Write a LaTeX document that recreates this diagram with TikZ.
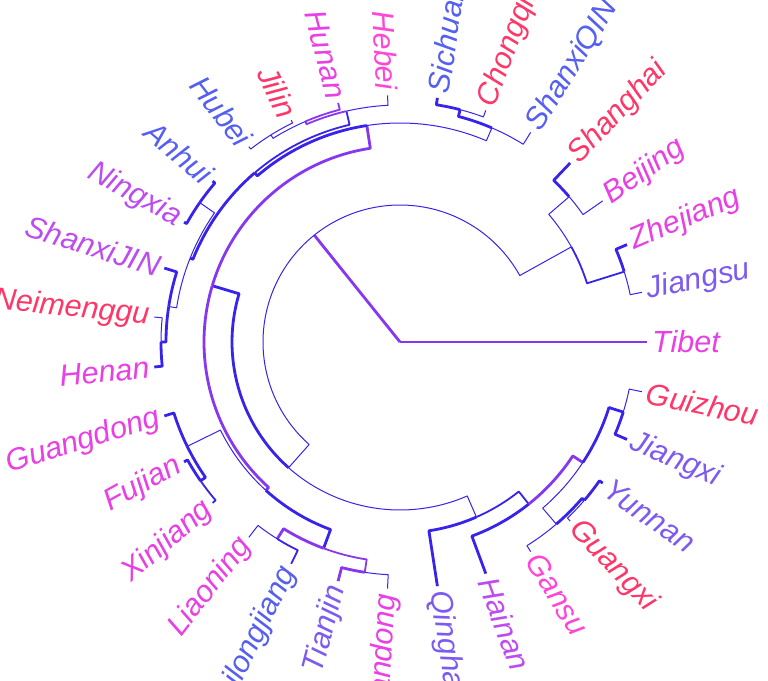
\documentclass[tikz,border=0pt]{standalone}
\usepackage{fontspec}
\setmainfont{Liberation Sans}
\definecolor{bl}{RGB}{55,35,235}
\definecolor{pu}{RGB}{135,55,240}
\definecolor{mg}{RGB}{232,64,228}
\definecolor{pk}{RGB}{255,70,215}
\definecolor{rd}{RGB}{255,55,105}
\definecolor{lb}{RGB}{85,95,240}
\definecolor{vb}{RGB}{125,90,240}
\definecolor{vi}{RGB}{190,75,240}
\begin{document}
\begin{tikzpicture}[x=1pt,y=1pt,line join=round,
  thn/.style={line width=1pt},mdm/.style={line width=1.8pt},thk/.style={line width=2.8pt},
  lab/.style={font=\fontsize{30.5}{36}\selectfont\itshape,inner sep=4pt}]
\clip (-400,-338) rectangle (368,342);
\coordinate (R) at (0,0);
\foreach \n/\a/\r in {M/128.74/137,East/29.03/196,ZJ/17.42/235,SB/40.65/223,W/228.45/168,
  C/163.31/196,U/98.71/219,Q/66.77/233,SC/75.48/240,U2/130.65/223,HB/103.07/237,HJH/113.23/240,
  JH/121.94/244,ANSNH/158.23/226,AN/145.16/244,SNH/171.29/234,NH/180/239,D/227.90/200,
  GFX/206.13/237,FX/214.84/243,LHTS/249.68/220,LH/238.06/232,TS/261.29/233,SE/293.59/191,
  Y/308.47/207,Z/326.61/219,G1/310.64/240,GY/319.35/243,G2/342.58/234}
  \coordinate (\n) at (\a:\r);
\foreach \n/\k/\c [evaluate=\k as \a using \k*360/31] in {Tibet/0/mg,Jiangsu/1/vb,Zhejiang/2/mg,
  Beijing/3/mg,Shanghai/4/rd,ShanxiQIN/5/lb,Chongqing/6/rd,Sichuan/7/lb,Qinghai/24/vb,Hainan/25/vi,
  Gansu/26/pk,Guangxi/27/rd,Yunnan/28/vb,Jiangxi/29/vb,Guizhou/30/rd}{
  \coordinate (t\n) at (\a:247);
  \node[lab,text=\c,anchor=west,rotate=\a] (\n) at (\a:248) {\n};}
\foreach \n/\k/\c [evaluate=\k as \a using \k*360/31] in {Hebei/8/pk,Hunan/9/mg,Jilin/10/rd,
  Hubei/11/lb,Anhui/12/lb,Ningxia/13/vi,ShanxiJIN/14/vi,Neimenggu/15/rd,Henan/16/mg,Guangdong/17/mg,
  Fujian/18/mg,Xinjiang/19/mg,Liaoning/20/mg,Heilongjiang/21/lb,Tianjin/22/vb,Shandong/23/mg}{
  \coordinate (t\n) at (\a:247);
  \node[lab,text=\c,anchor=east,rotate=\a-180] (\n) at (\a:248) {\n};}
\draw[mdm,pu] (R) -- (tTibet);
\draw[thk,pu] (R) -- (M);
\foreach \p/\pa/\pr/\c/\ca/\w/\col in {
  M/128.74/137/East/29.03/thn/bl, M/128.74/137/W/228.45/thn/bl,
  East/29.03/196/ZJ/17.42/mdm/bl, East/29.03/196/SB/40.65/thn/bl,
  ZJ/17.42/235/tJiangsu/11.61/thn/bl, ZJ/17.42/235/tZhejiang/23.23/thk/bl,
  SB/40.65/223/tBeijing/34.84/thn/bl, SB/40.65/223/tShanghai/46.45/thk/bl,
  W/228.45/168/C/163.31/thk/bl, W/228.45/168/SE/293.59/thn/bl,
  C/163.31/196/U/98.71/thk/pu, C/163.31/196/D/227.90/thk/pu,
  U/98.71/219/Q/66.77/thn/bl, U/98.71/219/U2/130.65/thk/bl,
  Q/66.77/233/tShanxiQIN/58.06/thn/bl, Q/66.77/233/SC/75.48/thk/bl,
  SC/75.48/240/tChongqing/69.68/thn/bl, SC/75.48/240/tSichuan/81.29/thk/bl,
  U2/130.65/223/HB/103.07/mdm/bl, U2/130.65/223/ANSNH/158.23/thk/bl,
  HB/103.07/237/tHebei/92.90/thn/bl, HB/103.07/237/HJH/113.23/mdm/pu,
  HJH/113.23/240/tHunan/104.52/mdm/pu, HJH/113.23/240/JH/121.94/thn/bl,
  JH/121.94/244/tJilin/116.13/thn/bl, JH/121.94/244/tHubei/127.74/thn/bl,
  ANSNH/158.23/226/AN/145.16/thn/bl, ANSNH/158.23/226/SNH/171.29/thn/bl,
  AN/145.16/244/tAnhui/139.35/thk/bl, AN/145.16/244/tNingxia/150.97/thk/bl,
  SNH/171.29/234/tShanxiJIN/162.58/thk/bl, SNH/171.29/234/NH/180/thk/bl,
  NH/180/239/tNeimenggu/174.19/thn/bl, NH/180/239/tHenan/185.81/thk/bl,
  D/227.90/200/GFX/206.13/thn/bl, D/227.90/200/LHTS/249.68/thk/bl,
  GFX/206.13/237/tGuangdong/197.42/thk/bl, GFX/206.13/237/FX/214.84/thk/bl,
  FX/214.84/243/tFujian/209.03/thk/bl, FX/214.84/243/tXinjiang/220.65/mdm/bl,
  LHTS/249.68/220/LH/238.06/thk/pu, LHTS/249.68/220/TS/261.29/mdm/pu,
  LH/238.06/232/tLiaoning/232.26/thn/bl, LH/238.06/232/tHeilongjiang/243.87/mdm/bl,
  TS/261.29/233/tTianjin/255.48/thk/pu, TS/261.29/233/tShandong/267.10/thn/bl,
  SE/293.59/191/tQinghai/278.71/thk/bl, SE/293.59/191/Y/308.47/mdm/bl,
  Y/308.47/207/tHainan/290.32/thk/bl, Y/308.47/207/Z/326.61/thk/pu,
  Z/326.61/219/G1/310.64/thn/bl, Z/326.61/219/G2/342.58/thk/bl,
  G1/310.64/240/tGansu/301.94/thn/bl, G1/310.64/240/GY/319.35/thk/bl,
  GY/319.35/243/tGuangxi/313.55/thn/bl, GY/319.35/243/tYunnan/325.16/thk/bl,
  G2/342.58/234/tJiangxi/336.77/thk/bl, G2/342.58/234/tGuizhou/348.39/thn/bl}
  \draw[\w,\col] (\p) arc[start angle=\pa,end angle=\ca,radius=\pr] -- (\c);
\end{tikzpicture}
\end{document}
